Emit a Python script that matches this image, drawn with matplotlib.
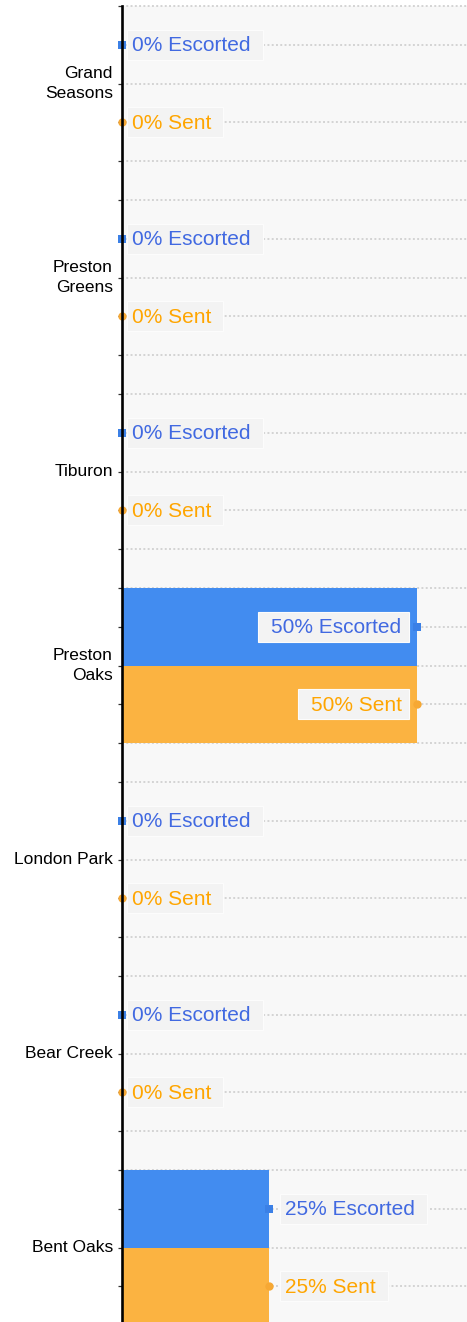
import matplotlib
matplotlib.use("Agg")
import matplotlib.pyplot as plt
from matplotlib.patches import Rectangle
from matplotlib.transforms import ScaledTranslation

# ---- data ----
categories = ["Grand\nSeasons", "Preston\nGreens", "Tiburon", "Preston\nOaks",
              "London Park", "Bear Creek", "Bent Oaks"]
escorted = [0, 0, 0, 50, 0, 0, 25]
sent = [0, 0, 0, 50, 0, 0, 25]
series_names = ["Escorted", "Sent"]

# ---- styling ----
BAR_COLORS = ["#428cf0", "#fbb341"]
MARK_COLORS = ["#3b80e6", "#f6a834"]
TEXT_COLORS = ["#4169e1", "#ffa500"]
BOX_FACE = "#f3f3f3"
BOX_EDGE = "#fcfcfc"
GRID_COLOR = "#d4d4d4"
PLOT_BG = "#f8f8f8"
FONT = "Liberation Sans"

DPI = 100
FIG_W, FIG_H = 467, 1322          # pixels
AX_LEFT_PX, AX_TOP_PX = 122, 6
PX_PER_CAT = 194                  # vertical pixels per category
PX_PER_PCT = 5.892                # horizontal pixels per percent

fig = plt.figure(figsize=(FIG_W / DPI, FIG_H / DPI), dpi=DPI)
fig.patch.set_facecolor("white")
ax = fig.add_axes([AX_LEFT_PX / FIG_W, 0, (FIG_W - AX_LEFT_PX) / FIG_W,
                   (FIG_H - AX_TOP_PX) / FIG_H])
ax.set_facecolor(PLOT_BG)

y_top = -0.4
y_bot = y_top + (FIG_H - AX_TOP_PX) / PX_PER_CAT
ax.set_ylim(y_bot, y_top)
ax.set_xlim(0, (FIG_W - AX_LEFT_PX) / PX_PER_PCT)


def shifted(dx_px, dy_px=0):
    return ax.transData + ScaledTranslation(dx_px / DPI, dy_px / DPI, fig.dpi_scale_trans)


# dotted gridlines every fifth of a category
k = 0
while True:
    gy = round(y_top + 0.2 * k, 6)
    if gy > y_bot:
        break
    ax.axhline(gy, color=GRID_COLOR, lw=1.4, ls=(0, (1.0, 1.2)), zorder=1, clip_on=False)
    k += 1

# ticks at each gridline, no labels
ticks = [round(y_top + 0.2 * j, 6) for j in range(k)]
ax.set_yticks(ticks)
ax.set_yticklabels([])
ax.tick_params(axis="y", length=2.9, width=0.9, color="#333333", direction="out")
ax.set_xticks([])
for side in ["top", "right", "bottom"]:
    ax.spines[side].set_visible(False)
ax.spines["left"].set_linewidth(1.9)
ax.spines["left"].set_color("black")
ax.spines["left"].set_zorder(2.5)

# category labels
for i, cat in enumerate(categories):
    ax.text(0, i, cat, transform=shifted(-9), ha="right", va="center",
            multialignment="right", fontsize=12.5, family=FONT, color="black",
            linespacing=1.4, clip_on=False)

# bars, end markers and value labels
series = [escorted, sent]
markers = ["s", "o"]
labels = []
for s, vals in enumerate(series):
    offs = -0.2 if s == 0 else 0.2
    ys = [i + offs for i in range(len(categories))]
    ax.barh(ys, vals, height=0.4, color=BAR_COLORS[s], zorder=1.5, linewidth=0)
    ax.plot(vals, ys, ls="none", marker=markers[s], ms=6.0, mew=0,
            color=MARK_COLORS[s], zorder=2.2, clip_on=False)
    for i, (y, v) in enumerate(zip(ys, vals)):
        t = ax.text(v, y, f"{v}% {series_names[s]}", fontsize=15, family=FONT,
                    color=TEXT_COLORS[s], va="center_baseline", ha="left",
                    zorder=4, clip_on=False)
        labels.append((t, v, y, i))

fig.canvas.draw()
renderer = fig.canvas.get_renderer()

# widest label within each category decides inside/outside placement
widest = {}
for t, v, y, i in labels:
    widest[i] = max(widest.get(i, 0), t.get_window_extent(renderer).width)

inv = ax.transData.inverted()
for t, v, y, i in labels:
    bar_px = v * PX_PER_PCT
    if bar_px >= widest[i] + 40:
        # label sits inside the bar, right aligned
        t.set_ha("right")
        t.set_transform(shifted(-15, 1))
        pad_l, pad_r = 13, 7
    else:
        t.set_ha("left")
        t.set_transform(shifted(10 if v == 0 else 16, 1))
        pad_l, pad_r = 5, 12
    bb = t.get_window_extent(renderer)
    cy = ax.transData.transform((0, y))[1]
    (x0, y0) = inv.transform((bb.x0 - pad_l, cy - 15))
    (x1, y1) = inv.transform((bb.x1 + pad_r, cy + 15))
    ax.add_patch(Rectangle((x0, y0), x1 - x0, y1 - y0, facecolor=BOX_FACE,
                           edgecolor=BOX_EDGE, lw=0.8, zorder=3, clip_on=False))

fig.savefig("out.png", dpi=DPI)
